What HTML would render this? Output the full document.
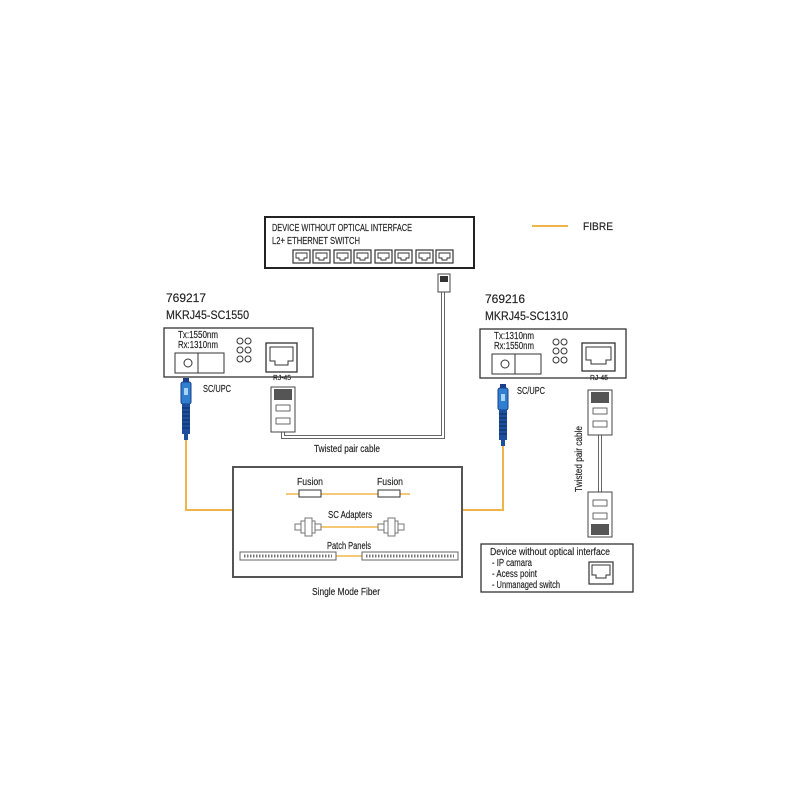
<!DOCTYPE html>
<html><head><meta charset="utf-8"><style>
html,body{margin:0;padding:0;background:#fff;}
svg{display:block;}
text{font-family:"Liberation Sans Narrow","Liberation Sans",sans-serif;fill:#222;stroke:#222;stroke-width:0.15;}
</style></head><body>
<svg width="800" height="800" viewBox="0 0 800 800" xmlns="http://www.w3.org/2000/svg">
<defs>
<g id="port"><rect x="0" y="0" width="17" height="13" fill="#fff" stroke="#333" stroke-width="1.2"/><path d="M3 3 H14 V8 H11 V10 H6 V8 H3 Z" fill="none" stroke="#333" stroke-width="0.9"/></g>
<g id="plugdown">
<rect x="0" y="0" width="24" height="45" fill="#fff" stroke="#444" stroke-width="1"/>
<rect x="3" y="2" width="18" height="11" fill="#555"/>
<rect x="5" y="18" width="14" height="6" fill="#fff" stroke="#444" stroke-width="0.8"/>
<rect x="5" y="31" width="14" height="6" fill="#fff" stroke="#444" stroke-width="0.8"/>
</g>
<g id="scconn">
<rect x="-3" y="0" width="6" height="4" fill="#1a3e8a"/>
<rect x="-5" y="4" width="10" height="22" rx="2" fill="#2f7fd0" stroke="#1a3e8a" stroke-width="1"/>
<rect x="-2" y="10" width="4" height="7" fill="#a9d4f5"/>
<rect x="-4" y="26" width="8" height="30" fill="#1d4f9e"/>
<path d="M-4 30 H4 M-4 34 H4 M-4 38 H4 M-4 42 H4 M-4 46 H4 M-4 50 H4" stroke="#0d2a5c" stroke-width="1"/>
<rect x="-2" y="56" width="4" height="6" fill="#1d4f9e"/>
</g>
<g id="adapter"><rect x="0" y="-6" width="14" height="12" fill="#fff" stroke="#777"/><rect x="4" y="-9" width="7" height="18" fill="#fff" stroke="#777"/><rect x="-6" y="-3" width="6" height="6" fill="#fff" stroke="#777"/><rect x="14" y="-3" width="6" height="6" fill="#fff" stroke="#777"/></g>
<g id="panel"><rect x="0" y="-4" width="96" height="8" fill="#fff" stroke="#666"/><path d="M4 0 H92" stroke="#777" stroke-width="3" stroke-dasharray="1.5 1.5"/></g>
</defs>

<line x1="532" y1="226" x2="568" y2="226" stroke="#f0b548" stroke-width="2"/>
<text x="583" y="230" font-size="11" textLength="30" lengthAdjust="spacingAndGlyphs">FIBRE</text>

<rect x="265" y="217" width="209" height="51" fill="#fff" stroke="#222" stroke-width="2"/>
<text x="272" y="231" font-size="10" textLength="140" lengthAdjust="spacingAndGlyphs">DEVICE WITHOUT OPTICAL INTERFACE</text>
<text x="272" y="244" font-size="10" textLength="88" lengthAdjust="spacingAndGlyphs">L2+ ETHERNET SWITCH</text>
<use href="#port" x="293" y="250"/><use href="#port" x="313" y="250"/><use href="#port" x="334" y="250"/><use href="#port" x="354" y="250"/><use href="#port" x="375" y="250"/><use href="#port" x="395" y="250"/><use href="#port" x="416" y="250"/><use href="#port" x="436" y="250"/>

<path d="M443 292 V437 H283 V432" fill="none" stroke="#666" stroke-width="4"/>
<path d="M443 292 V437 H283 V432" fill="none" stroke="#fff" stroke-width="2"/>
<rect x="438" y="274" width="12" height="18" fill="#fff" stroke="#444"/>
<rect x="440" y="276" width="8" height="6" fill="#333"/>
<text x="314" y="452" font-size="10" textLength="66" lengthAdjust="spacingAndGlyphs">Twisted pair cable</text>

<text x="166" y="302" font-size="11.5" textLength="40" lengthAdjust="spacingAndGlyphs">769217</text>
<text x="166" y="319" font-size="11.5" textLength="83" lengthAdjust="spacingAndGlyphs">MKRJ45-SC1550</text>
<rect x="164" y="328" width="149" height="49" fill="#fff" stroke="#333" stroke-width="1.3"/>
<text x="178" y="338" font-size="10" textLength="40" lengthAdjust="spacingAndGlyphs">Tx:1550nm</text>
<text x="178" y="348" font-size="10" textLength="40" lengthAdjust="spacingAndGlyphs">Rx:1310nm</text>
<rect x="175" y="353" width="49" height="20" fill="#fff" stroke="#333"/><line x1="198" y1="353" x2="198" y2="373" stroke="#333"/><circle cx="188" cy="363" r="4" fill="none" stroke="#333"/>
<g fill="none" stroke="#333"><circle cx="240" cy="341" r="3"/><circle cx="248" cy="341" r="3"/><circle cx="240" cy="350" r="3"/><circle cx="248" cy="350" r="3"/><circle cx="240" cy="359" r="3"/><circle cx="248" cy="359" r="3"/></g>
<rect x="266" y="343" width="31" height="29" fill="#fff" stroke="#333" stroke-width="1.3"/>
<path d="M270 347 H293 V361 H288 V365 H275 V361 H270 Z" fill="none" stroke="#333"/>
<text x="273" y="380" font-size="7" textLength="18" lengthAdjust="spacingAndGlyphs">RJ-45</text>
<use href="#scconn" x="186" y="378"/>
<text x="203" y="392" font-size="10" textLength="28" lengthAdjust="spacingAndGlyphs">SC/UPC</text>
<use href="#plugdown" x="271" y="387"/>

<path d="M186 440 V510 H233" fill="none" stroke="#f0b548" stroke-width="2"/>
<path d="M462 510 H503 V440" fill="none" stroke="#f0b548" stroke-width="2"/>

<rect x="233" y="467" width="229" height="110" fill="#fff" stroke="#555" stroke-width="2"/>
<text x="297" y="485" font-size="10" textLength="26" lengthAdjust="spacingAndGlyphs">Fusion</text>
<text x="377" y="485" font-size="10" textLength="26" lengthAdjust="spacingAndGlyphs">Fusion</text>
<line x1="286" y1="494" x2="410" y2="494" stroke="#f0b548" stroke-width="1.5"/>
<rect x="299" y="490" width="22" height="7" fill="#fff" stroke="#333"/>
<rect x="378" y="490" width="22" height="7" fill="#fff" stroke="#333"/>
<text x="328" y="518" font-size="10" textLength="44" lengthAdjust="spacingAndGlyphs">SC Adapters</text>
<line x1="315" y1="527" x2="378" y2="527" stroke="#f0b548" stroke-width="1.5"/>
<use href="#adapter" x="301" y="527"/><use href="#adapter" x="384" y="527"/>
<text x="327" y="549" font-size="10" textLength="44" lengthAdjust="spacingAndGlyphs">Patch Panels</text>
<line x1="335" y1="556" x2="362" y2="556" stroke="#f0b548" stroke-width="1.5"/>
<use href="#panel" x="240" y="556"/><use href="#panel" x="362" y="556"/>
<text x="312" y="595" font-size="10" textLength="68" lengthAdjust="spacingAndGlyphs">Single Mode Fiber</text>

<text x="485" y="303" font-size="11.5" textLength="40" lengthAdjust="spacingAndGlyphs">769216</text>
<text x="485" y="320" font-size="11.5" textLength="83" lengthAdjust="spacingAndGlyphs">MKRJ45-SC1310</text>
<rect x="480" y="329" width="146" height="49" fill="#fff" stroke="#333" stroke-width="1.3"/>
<text x="494" y="339" font-size="10" textLength="40" lengthAdjust="spacingAndGlyphs">Tx:1310nm</text>
<text x="494" y="349" font-size="10" textLength="40" lengthAdjust="spacingAndGlyphs">Rx:1550nm</text>
<rect x="492" y="354" width="49" height="20" fill="#fff" stroke="#333"/><line x1="515" y1="354" x2="515" y2="374" stroke="#333"/><circle cx="505" cy="364" r="4" fill="none" stroke="#333"/>
<g fill="none" stroke="#333"><circle cx="556" cy="342" r="3"/><circle cx="564" cy="342" r="3"/><circle cx="556" cy="351" r="3"/><circle cx="564" cy="351" r="3"/><circle cx="556" cy="360" r="3"/><circle cx="564" cy="360" r="3"/></g>
<rect x="582" y="343" width="33" height="28" fill="#fff" stroke="#333" stroke-width="1.3"/>
<path d="M586 347 H611 V360 H606 V364 H591 V360 H586 Z" fill="none" stroke="#333"/>
<text x="590" y="380" font-size="7" textLength="18" lengthAdjust="spacingAndGlyphs">RJ-45</text>
<use href="#scconn" x="503" y="384"/>
<text x="517" y="394" font-size="10" textLength="28" lengthAdjust="spacingAndGlyphs">SC/UPC</text>

<path d="M600 435 V492" stroke="#666" stroke-width="4"/>
<path d="M600 435 V492" stroke="#fff" stroke-width="2"/>
<use href="#plugdown" x="588" y="390"/>
<g transform="translate(612 537) rotate(180)"><use href="#plugdown" x="0" y="0"/></g>
<text transform="translate(582 492) rotate(-90)" font-size="10" textLength="66" lengthAdjust="spacingAndGlyphs">Twisted pair cable</text>

<rect x="481" y="544" width="152" height="48" fill="#fff" stroke="#333" stroke-width="1.3"/>
<text x="490" y="555" font-size="10" textLength="120" lengthAdjust="spacingAndGlyphs">Device without optical interface</text>
<text x="492" y="566" font-size="10" textLength="40" lengthAdjust="spacingAndGlyphs">- IP camara</text>
<text x="492" y="577" font-size="10" textLength="45" lengthAdjust="spacingAndGlyphs">- Acess point</text>
<text x="492" y="588" font-size="10" textLength="68" lengthAdjust="spacingAndGlyphs">- Unmanaged switch</text>
<rect x="589" y="562" width="24" height="22" fill="#fff" stroke="#333" stroke-width="1.2"/>
<path d="M592 565 H610 V575 H606 V578 H596 V575 H592 Z" fill="none" stroke="#333"/>
</svg>
</body></html>
